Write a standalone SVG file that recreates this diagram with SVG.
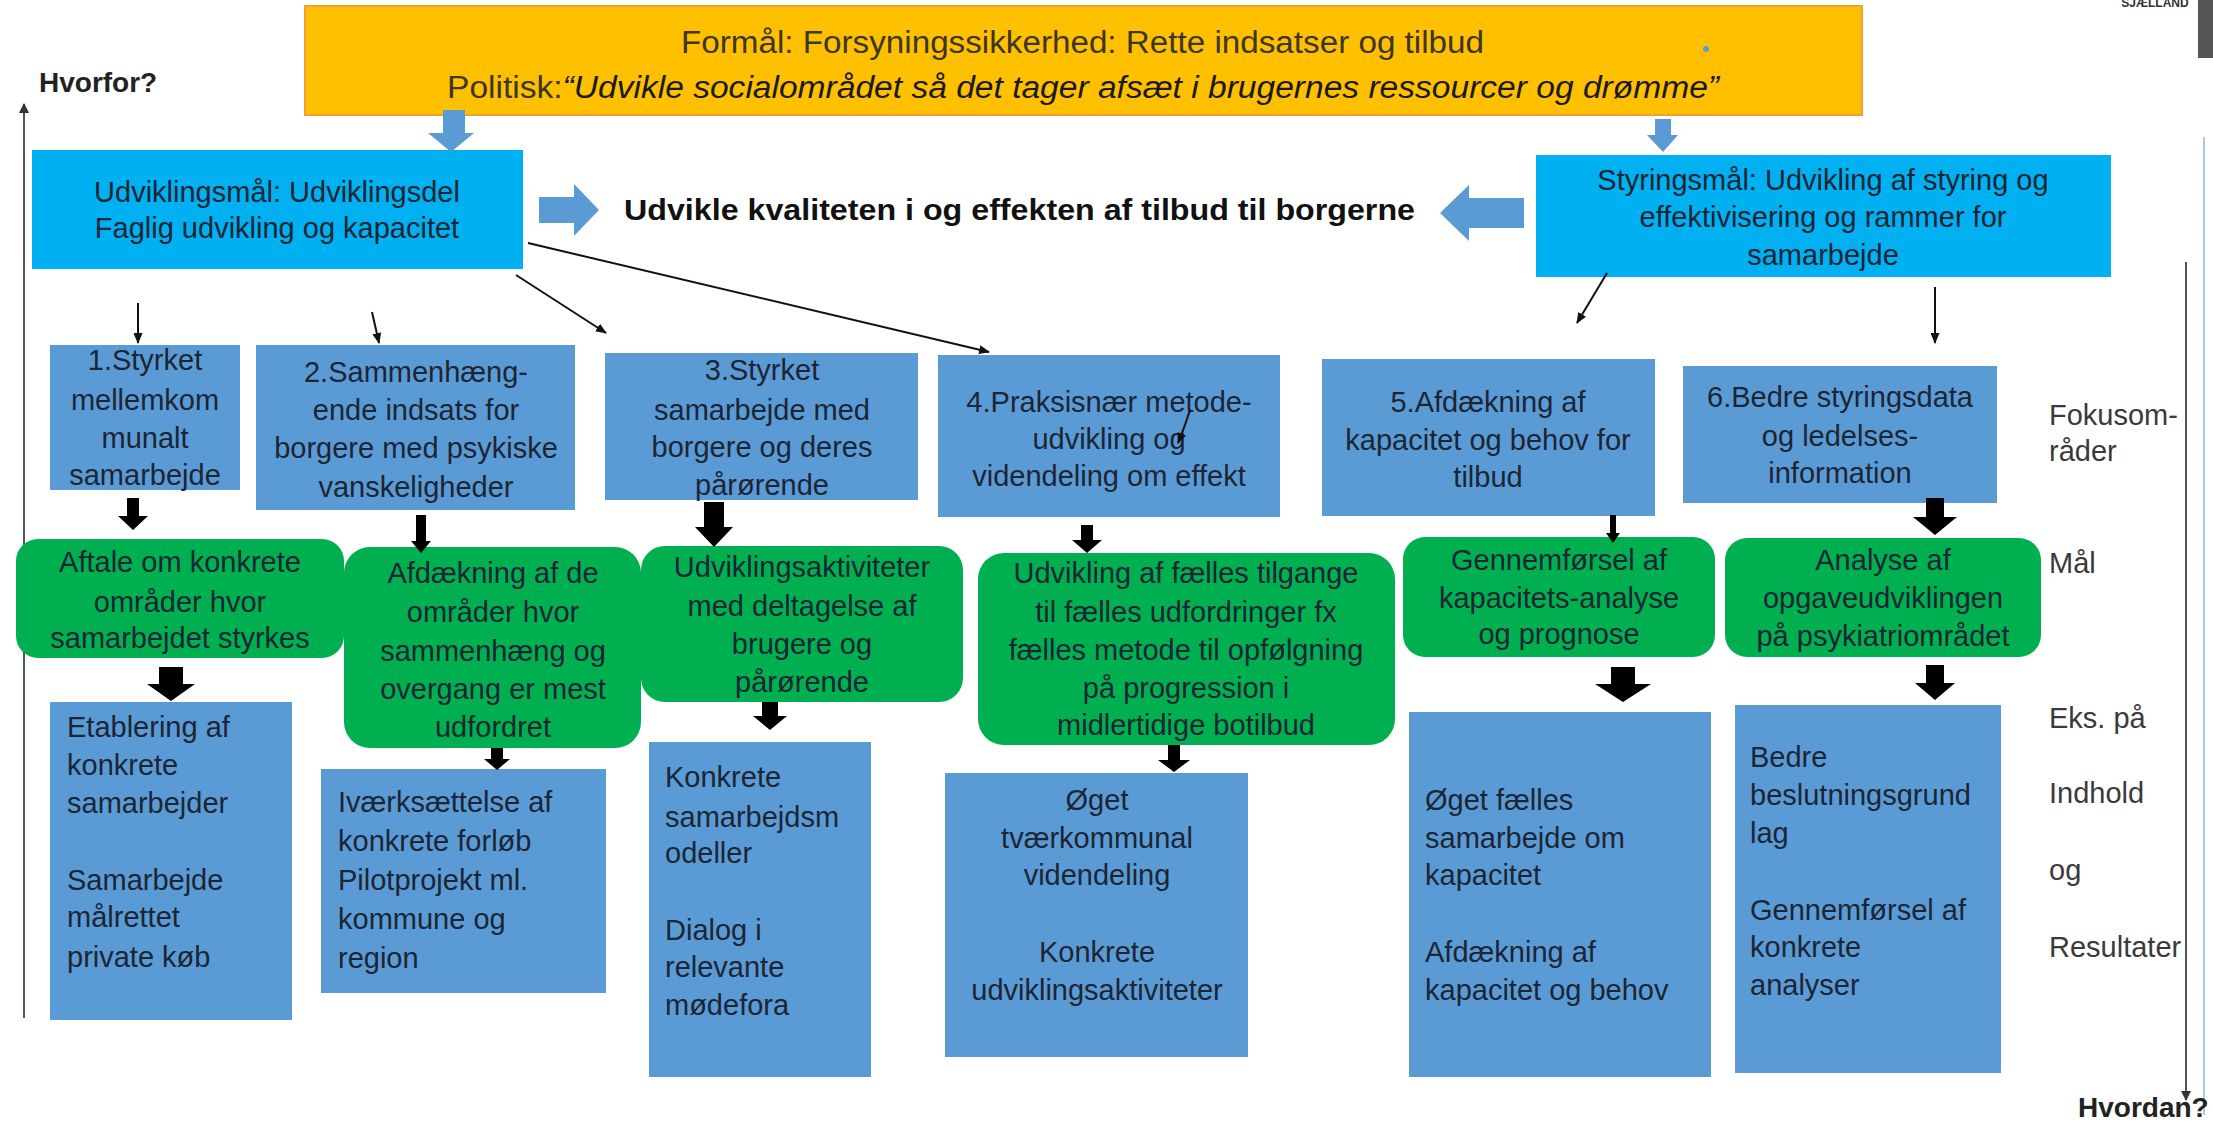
<svg xmlns="http://www.w3.org/2000/svg" width="2213" height="1122" viewBox="0 0 2213 1122">
<defs>
<marker id="ah" markerWidth="11" markerHeight="9" refX="10" refY="4.5" orient="auto" markerUnits="userSpaceOnUse"><path d="M0,0 L11,4.5 L0,9 z" fill="#111"/></marker>
<marker id="ah2" markerWidth="10" markerHeight="10" refX="9" refY="5" orient="auto" markerUnits="userSpaceOnUse"><path d="M0,0 L10,5 L0,10 z" fill="#333"/></marker>
<style>
text{font-family:"Liberation Sans",Arial,sans-serif}
.t{font-size:29px;fill:#1b2533}
.c{text-anchor:middle}
.lbl{font-size:29px;fill:#3a3a3a}
.q{font-size:28px;font-weight:bold;fill:#222}
.blue{fill:#5B9BD5}
.cyan{fill:#00B0F0}
.green{fill:#00B050}
.yellow{fill:#FFC000;stroke:#F0A030;stroke-width:2}
.ba{fill:#5B9BD5}
.ka{fill:#000}
.thin{stroke:#111;stroke-width:2;fill:none;marker-end:url(#ah)}
</style>
</defs>
<rect width="2213" height="1122" fill="#fff"/>

<!-- decorations -->
<rect x="2198" y="0" width="15" height="58" fill="#555"/>
<text x="2155" y="7" text-anchor="middle" font-size="12" font-weight="bold" fill="#333">SJÆLLAND</text>
<line x1="2204" y1="137" x2="2204" y2="1115" stroke="#a9c9e8" stroke-width="2"/>
<line x1="24" y1="1018" x2="24" y2="104" stroke="#555" stroke-width="2" marker-end="url(#ah2)"/>
<line x1="2186" y1="262" x2="2186" y2="1100" stroke="#555" stroke-width="2" marker-end="url(#ah2)"/>
<text class="q" x="39" y="92">Hvorfor?</text>
<text class="q" x="2078" y="1117">Hvordan?</text>
<text class="lbl" x="2049" y="425">Fokusom-</text>
<text class="lbl" x="2049" y="461">råder</text>
<text class="lbl" x="2049" y="573">Mål</text>
<text class="lbl" x="2049" y="728">Eks. på</text>
<text class="lbl" x="2049" y="803">Indhold</text>
<text class="lbl" x="2049" y="880">og</text>
<text class="lbl" x="2049" y="957">Resultater</text>

<g id="formaal">
<rect class="yellow" x="305" y="6" width="1557" height="109"/>
<text x="681" y="53" font-size="31" fill="#3d3525" textLength="803" lengthAdjust="spacingAndGlyphs">Formål: Forsyningssikkerhed: Rette indsatser og tilbud</text>
<text x="447" y="98" font-size="31" fill="#3d3525" textLength="1272" lengthAdjust="spacingAndGlyphs">Politisk:<tspan font-style="italic" fill="#1a1a1a">“Udvikle socialområdet så det tager afsæt i brugernes ressourcer og drømme”</tspan></text>
<circle cx="1706" cy="49" r="3" fill="#5B9BD5"/>
</g>

<g id="udviklingsmaal">
<rect class="cyan" x="32" y="150" width="491" height="119"/>
<text class="t c" x="277" y="202">Udviklingsmål: Udviklingsdel</text>
<text class="t c" x="277" y="238">Faglig udvikling og kapacitet</text>
</g>

<g id="styringsmaal">
<rect class="cyan" x="1536" y="155" width="575" height="122"/>
<text class="t c" x="1823" y="190">Styringsmål: Udvikling af styring og</text>
<text class="t c" x="1823" y="227">effektivisering og rammer for</text>
<text class="t c" x="1823" y="265">samarbejde</text>
</g>

<g id="kvalitet">
<text x="624" y="220" font-size="29" font-weight="bold" fill="#111" textLength="791" lengthAdjust="spacingAndGlyphs">Udvikle kvaliteten i og effekten af tilbud til borgerne</text>
</g>

<!-- row 1 focus areas -->
<g id="fokus1"><rect class="blue" x="50" y="345" width="190" height="145"/>
<text class="t c" x="145" y="370">1.Styrket</text><text class="t c" x="145" y="410">mellemkom</text><text class="t c" x="145" y="448">munalt</text><text class="t c" x="145" y="485">samarbejde</text></g>
<g id="fokus2"><rect class="blue" x="256" y="345" width="319" height="165"/>
<text class="t c" x="416" y="382">2.Sammenhæng-</text><text class="t c" x="416" y="420">ende indsats for</text><text class="t c" x="416" y="458">borgere med psykiske</text><text class="t c" x="416" y="497">vanskeligheder</text></g>
<g id="fokus3"><rect class="blue" x="605" y="353" width="313" height="147"/>
<text class="t c" x="762" y="380">3.Styrket</text><text class="t c" x="762" y="420">samarbejde med</text><text class="t c" x="762" y="457">borgere og deres</text><text class="t c" x="762" y="495">pårørende</text></g>
<g id="fokus4"><rect class="blue" x="938" y="355" width="342" height="162"/>
<text class="t c" x="1109" y="412">4.Praksisnær metode-</text><text class="t c" x="1109" y="449">udvikling og</text><text class="t c" x="1109" y="486">videndeling om effekt</text></g>
<g id="fokus5"><rect class="blue" x="1322" y="359" width="333" height="157"/>
<text class="t c" x="1488" y="412">5.Afdækning af</text><text class="t c" x="1488" y="450">kapacitet og behov for</text><text class="t c" x="1488" y="487">tilbud</text></g>
<g id="fokus6"><rect class="blue" x="1683" y="366" width="314" height="137"/>
<text class="t c" x="1840" y="407">6.Bedre styringsdata</text><text class="t c" x="1840" y="446">og ledelses-</text><text class="t c" x="1840" y="483">information</text></g>

<!-- row 2 goals -->
<g id="maal1"><rect class="green" x="16" y="539" width="328" height="119" rx="22"/>
<text class="t c" x="180" y="572">Aftale om konkrete</text><text class="t c" x="180" y="612">områder hvor</text><text class="t c" x="180" y="648">samarbejdet styrkes</text></g>
<g id="maal2"><rect class="green" x="344" y="547" width="297" height="201" rx="26"/>
<text class="t c" x="493" y="583">Afdækning af de</text><text class="t c" x="493" y="622">områder hvor</text><text class="t c" x="493" y="661">sammenhæng og</text><text class="t c" x="493" y="699">overgang er mest</text><text class="t c" x="493" y="737">udfordret</text></g>
<g id="maal3"><rect class="green" x="641" y="546" width="322" height="156" rx="24"/>
<text class="t c" x="802" y="577">Udviklingsaktiviteter</text><text class="t c" x="802" y="616">med deltagelse af</text><text class="t c" x="802" y="654">brugere og</text><text class="t c" x="802" y="692">pårørende</text></g>
<g id="maal4"><rect class="green" x="978" y="553" width="417" height="192" rx="26"/>
<text class="t c" x="1186" y="583">Udvikling af fælles tilgange</text><text class="t c" x="1186" y="622">til fælles udfordringer fx</text><text class="t c" x="1186" y="660">fælles metode til opfølgning</text><text class="t c" x="1186" y="698">på progression i</text><text class="t c" x="1186" y="735">midlertidige botilbud</text></g>
<g id="maal5"><rect class="green" x="1403" y="537" width="312" height="120" rx="22"/>
<text class="t c" x="1559" y="570">Gennemførsel af</text><text class="t c" x="1559" y="608">kapacitets-analyse</text><text class="t c" x="1559" y="644">og prognose</text></g>
<g id="maal6"><rect class="green" x="1725" y="538" width="316" height="119" rx="22"/>
<text class="t c" x="1883" y="570">Analyse af</text><text class="t c" x="1883" y="608">opgaveudviklingen</text><text class="t c" x="1883" y="646">på psykiatriområdet</text></g>

<!-- row 3 examples -->
<g id="eks1"><rect class="blue" x="50" y="702" width="242" height="318"/>
<text class="t" x="67" y="737">Etablering af</text><text class="t" x="67" y="775">konkrete</text><text class="t" x="67" y="813">samarbejder</text><text class="t" x="67" y="890">Samarbejde</text><text class="t" x="67" y="927">målrettet</text><text class="t" x="67" y="967">private køb</text></g>
<g id="eks2"><rect class="blue" x="321" y="769" width="285" height="224"/>
<text class="t" x="338" y="812">Iværksættelse af</text><text class="t" x="338" y="851">konkrete forløb</text><text class="t" x="338" y="890">Pilotprojekt ml.</text><text class="t" x="338" y="929">kommune og</text><text class="t" x="338" y="968">region</text></g>
<g id="eks3"><rect class="blue" x="649" y="742" width="222" height="335"/>
<text class="t" x="665" y="787">Konkrete</text><text class="t" x="665" y="827">samarbejdsm</text><text class="t" x="665" y="863">odeller</text><text class="t" x="665" y="940">Dialog i</text><text class="t" x="665" y="977">relevante</text><text class="t" x="665" y="1015">mødefora</text></g>
<g id="eks4"><rect class="blue" x="945" y="773" width="303" height="284"/>
<text class="t c" x="1097" y="810">Øget</text><text class="t c" x="1097" y="848">tværkommunal</text><text class="t c" x="1097" y="885">videndeling</text><text class="t c" x="1097" y="962">Konkrete</text><text class="t c" x="1097" y="1000">udviklingsaktiviteter</text></g>
<g id="eks5"><rect class="blue" x="1409" y="712" width="302" height="365"/>
<text class="t" x="1425" y="810">Øget fælles</text><text class="t" x="1425" y="848">samarbejde om</text><text class="t" x="1425" y="885">kapacitet</text><text class="t" x="1425" y="962">Afdækning af</text><text class="t" x="1425" y="1000">kapacitet og behov</text></g>
<g id="eks6"><rect class="blue" x="1735" y="705" width="266" height="368"/>
<text class="t" x="1750" y="767">Bedre</text><text class="t" x="1750" y="805">beslutningsgrund</text><text class="t" x="1750" y="843">lag</text><text class="t" x="1750" y="920">Gennemførsel af</text><text class="t" x="1750" y="957">konkrete</text><text class="t" x="1750" y="995">analyser</text></g>

<g id="connectors">
<polygon class="ba" points="443,110 465,110 465,133 474,133 451,152 428,133 443,133"/>
<polygon class="ba" points="1655,119 1671,119 1671,135 1678,135 1663,152 1647,135 1655,135"/>
<polygon class="ba" points="539,197 574,197 574,184 599,210 574,236 574,223 539,223"/>
<polygon class="ba" points="1524,198 1469,198 1469,185 1440,213 1469,241 1469,228 1524,228"/>
<line class="thin" x1="138" y1="303" x2="138" y2="343"/>
<line class="thin" x1="372" y1="312" x2="379" y2="343"/>
<line class="thin" x1="516" y1="275" x2="606" y2="333"/>
<line class="thin" x1="528" y1="243" x2="989" y2="352"/>
<line class="thin" x1="1607" y1="273" x2="1577" y2="323"/>
<line class="thin" x1="1935" y1="287" x2="1935" y2="343"/>
<path class="thin" d="M1190,410 Q1185,426 1178,443"/>
<polygon class="ka" points="127,498 139,498 139,516 148,516 133,530 118,516 127,516"/>
<polygon class="ka" points="416,515 426,515 426,541 431,541 421,553 411,541 416,541"/>
<polygon class="ka" points="704,502 724,502 724,527 733,527 714,547 695,527 704,527"/>
<polygon class="ka" points="1081,525 1093,525 1093,540 1102,540 1087,553 1072,540 1081,540"/>
<polygon class="ka" points="1610,515 1616,515 1616,533 1620,533 1613,543 1606,533 1610,533"/>
<polygon class="ka" points="1926,498 1944,498 1944,517 1957,517 1935,535 1913,517 1926,517"/>
<polygon class="ka" points="159,667 183,667 183,684 195,684 171,701 147,684 159,684"/>
<polygon class="ka" points="491,748 503,748 503,759 510,759 497,770 484,759 491,759"/>
<polygon class="ka" points="762,702 778,702 778,716 787,716 770,730 753,716 762,716"/>
<polygon class="ka" points="1168,745 1180,745 1180,760 1190,760 1174,772 1158,760 1168,760"/>
<polygon class="ka" points="1611,667 1635,667 1635,684 1651,684 1623,702 1595,684 1611,684"/>
<polygon class="ka" points="1926,665 1944,665 1944,683 1955,683 1935,700 1915,683 1926,683"/>
</g>
</svg>
